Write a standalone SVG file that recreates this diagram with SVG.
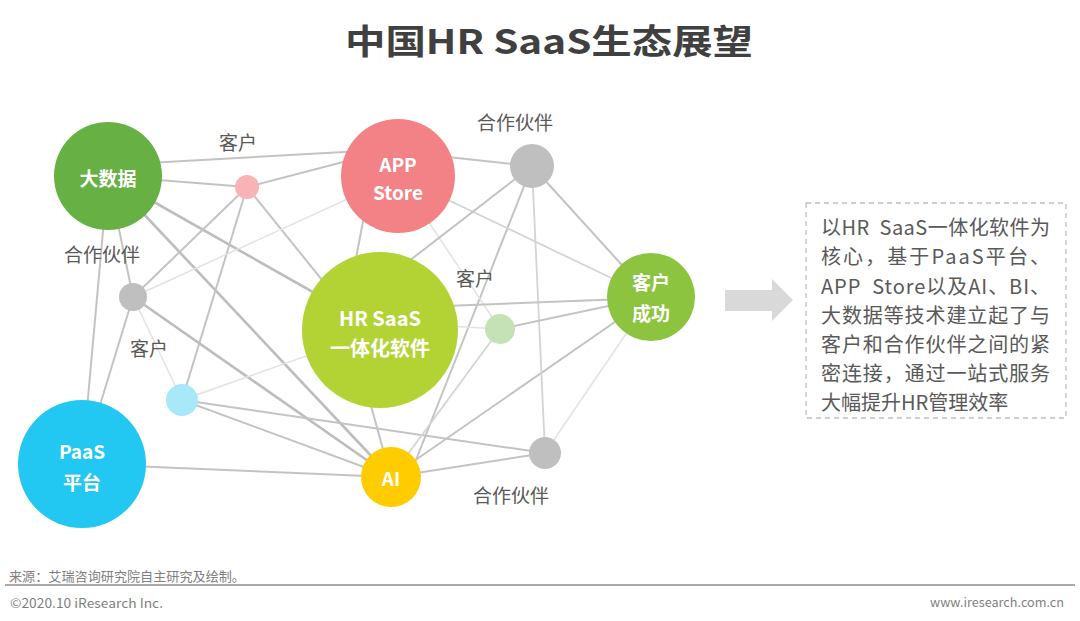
<svg xmlns="http://www.w3.org/2000/svg" width="1080" height="621" viewBox="0 0 1080 621">
<style>
.ln{stroke:#c3c3c3;stroke-width:2;fill:none}
.tk{stroke:#bdbdbd;stroke-width:2.6;fill:none}
.ft{stroke:#e2e2e2;stroke-width:1.5;fill:none}
.md{stroke:#d4d4d4;stroke-width:1.8;fill:none}
.nl{font-family:"Noto Sans CJK SC","Liberation Sans",sans-serif;font-weight:bold;fill:#ffffff;text-anchor:middle;dominant-baseline:central}
.lb{font-family:"Noto Sans CJK SC","Liberation Sans",sans-serif;font-size:19px;fill:#595959;text-anchor:middle;dominant-baseline:central}
.bx{font-family:"Noto Sans CJK SC","Liberation Sans",sans-serif;font-size:20px;fill:#595959;dominant-baseline:central}
.ftx{font-family:"Noto Sans CJK SC","Liberation Sans",sans-serif;font-size:13px;fill:#7f7f7f;dominant-baseline:central}
</style>
<rect width="1080" height="621" fill="#ffffff"/>
<text x="549" y="39" font-family="Noto Sans CJK SC, Liberation Sans, sans-serif" font-size="34" font-weight="bold" fill="#404040" text-anchor="middle" dominant-baseline="central" textLength="408" lengthAdjust="spacingAndGlyphs">中国HR SaaS生态展望</text>
<g id="connectors">
<line class="ln" x1="130" y1="164" x2="380" y2="150"/>
<line class="ln" x1="108" y1="176" x2="247" y2="187"/>
<line class="ln" x1="247" y1="187" x2="370" y2="155"/>
<line class="tk" x1="108" y1="176" x2="380" y2="330"/>
<line class="tk" x1="108" y1="176" x2="391" y2="477"/>
<line class="ln" x1="108" y1="176" x2="133" y2="297"/>
<line class="ln" x1="108" y1="176" x2="82" y2="464"/>
<line class="ln" x1="247" y1="187" x2="133" y2="297"/>
<line class="ln" x1="247" y1="187" x2="182" y2="400"/>
<line class="ln" x1="247" y1="187" x2="335" y2="296"/>
<line class="ft" x1="398" y1="176" x2="133" y2="297"/>
<line class="tk" x1="133" y1="297" x2="391" y2="477"/>
<line class="ln" x1="133" y1="297" x2="82" y2="464"/>
<line class="ft" x1="133" y1="297" x2="182" y2="400"/>
<line class="ft" x1="182" y1="400" x2="380" y2="330"/>
<line class="ln" x1="182" y1="400" x2="391" y2="477"/>
<line class="ln" x1="182" y1="400" x2="545" y2="453"/>
<line class="ln" x1="82" y1="464" x2="391" y2="477"/>
<line class="ln" x1="368" y1="395" x2="386" y2="460"/>
<line class="ln" x1="412" y1="470" x2="532" y2="166"/>
<line class="md" x1="391" y1="477" x2="500" y2="329"/>
<line class="ln" x1="391" y1="477" x2="651" y2="297"/>
<line class="ln" x1="391" y1="477" x2="545" y2="453"/>
<line class="md" x1="532" y1="166" x2="545" y2="453"/>
<line class="ft" x1="651" y1="297" x2="545" y2="453"/>
<line class="ln" x1="420" y1="154" x2="532" y2="166"/>
<line class="md" x1="398" y1="176" x2="651" y2="297"/>
<line class="ft" x1="398" y1="176" x2="500" y2="329"/>
<line class="ln" x1="532" y1="166" x2="400" y2="268"/>
<line class="ln" x1="532" y1="166" x2="651" y2="297"/>
<line class="ln" x1="420" y1="307" x2="651" y2="298"/>
<line class="ft" x1="430" y1="325" x2="500" y2="329"/>
<line class="ln" x1="500" y1="329" x2="651" y2="297"/>
<line class="ln" x1="366" y1="205" x2="352" y2="280"/>
</g>
<g id="node-bigdata"><circle cx="108" cy="176" r="54" fill="#67b044"/><text class="nl" x="108" y="177" font-size="19">大数据</text></g>
<g id="node-client1"><circle cx="247" cy="187" r="12" fill="#f9b3b7"/><text class="lb" x="238" y="141">客户</text></g>
<g id="node-appstore"><circle cx="398" cy="176" r="57" fill="#f28285"/><text class="nl" x="398" y="163" font-size="19">APP</text><text class="nl" x="398" y="191" font-size="19">Store</text></g>
<g id="node-partner1"><circle cx="532" cy="166" r="22" fill="#bfbfbf"/><text class="lb" x="515" y="121">合作伙伴</text></g>
<g id="node-partner2"><circle cx="133" cy="297" r="14" fill="#bfbfbf"/><text class="lb" x="102" y="253">合作伙伴</text></g>
<g id="node-hrsaas"><circle cx="380" cy="330" r="78" fill="#b3d335"/><text class="nl" x="380" y="317" font-size="20">HR SaaS</text><text class="nl" x="380" y="347" font-size="20">一体化软件</text></g>
<g id="node-client2"><circle cx="500" cy="329" r="15" fill="#c4e2b6"/><text class="lb" x="475" y="277">客户</text></g>
<g id="node-success"><circle cx="651" cy="297" r="44" fill="#8cc43f"/><text class="nl" x="651" y="281" font-size="19">客户</text><text class="nl" x="651" y="312" font-size="19">成功</text></g>
<g id="node-client3"><circle cx="182" cy="400" r="16" fill="#a7e9f9"/><text class="lb" x="149" y="347">客户</text></g>
<g id="node-paas"><circle cx="82" cy="464" r="64" fill="#22c8f2"/><text class="nl" x="82" y="450" font-size="19">PaaS</text><text class="nl" x="82" y="481" font-size="19">平台</text></g>
<g id="node-ai"><circle cx="391" cy="477" r="30" fill="#ffcc00"/><text class="nl" x="391" y="477" font-size="19">AI</text></g>
<g id="node-partner3"><circle cx="545" cy="453" r="16" fill="#bfbfbf"/><text class="lb" x="511" y="494">合作伙伴</text></g>
<g id="arrow"><polygon points="725,290 772,290 772,279 793,300 772,321 772,311 725,311" fill="#d9d9d9"/></g>
<g id="summary">
<rect x="806" y="203" width="260" height="215" fill="none" stroke="#bfbfbf" stroke-width="1.3" stroke-dasharray="5,4"/>
<text class="bx" x="821" y="226" textLength="229" lengthAdjust="spacing">以HR&#160; SaaS一体化软件为</text>
<text class="bx" x="821" y="255" textLength="229" lengthAdjust="spacing">核心，基于PaaS平台、</text>
<text class="bx" x="821" y="285" textLength="229" lengthAdjust="spacing">APP&#160; Store以及AI、BI、</text>
<text class="bx" x="821" y="314" textLength="229" lengthAdjust="spacing">大数据等技术建立起了与</text>
<text class="bx" x="821" y="343" textLength="229" lengthAdjust="spacing">客户和合作伙伴之间的紧</text>
<text class="bx" x="821" y="372" textLength="229" lengthAdjust="spacing">密连接，通过一站式服务</text>
<text class="bx" x="821" y="401">大幅提升HR管理效率</text>
</g>
<g id="footer">
<text class="ftx" x="9" y="575" textLength="236" lengthAdjust="spacingAndGlyphs">来源：艾瑞咨询研究院自主研究及绘制。</text>
<line x1="5" y1="585" x2="1075" y2="585" stroke="#8c8c8c" stroke-width="1.5"/>
<text class="ftx" x="10" y="602" textLength="153" lengthAdjust="spacingAndGlyphs">©2020.10 iResearch Inc.</text>
<text class="ftx" x="1064" y="601" text-anchor="end" textLength="134" lengthAdjust="spacingAndGlyphs">www.iresearch.com.cn</text>
</g>
</svg>
